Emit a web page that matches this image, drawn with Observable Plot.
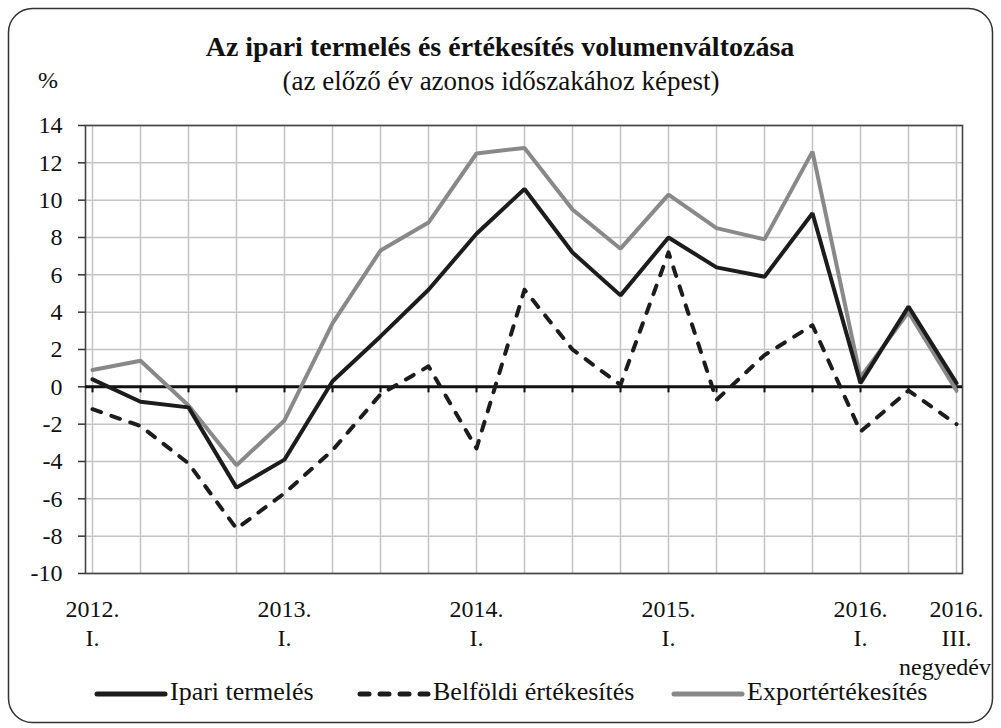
<!DOCTYPE html>
<html>
<head>
<meta charset="utf-8">
<script src="https://cdn.jsdelivr.net/npm/d3@7"></script>
<script src="https://cdn.jsdelivr.net/npm/@observablehq/plot@0.6"></script>
<style>
  body { margin: 0; background: #fff; }
  #wrap { position: relative; width: 1001px; height: 728px; font-family: "Liberation Serif", "Times New Roman", serif; color: #111; overflow: hidden; }
  #chart { position: absolute; left: 0; top: 0; }
  #overlay { position: absolute; left: 0; top: 0; pointer-events: none; }
</style>
</head>
<body>
<div id="wrap">
  <div id="chart"></div>
  <svg id="overlay" width="1001" height="728"></svg>
</div>
<script>
// ---- Data ----
const quarters = [
  "2012. I.", "2012. II.", "2012. III.", "2012. IV.",
  "2013. I.", "2013. II.", "2013. III.", "2013. IV.",
  "2014. I.", "2014. II.", "2014. III.", "2014. IV.",
  "2015. I.", "2015. II.", "2015. III.", "2015. IV.",
  "2016. I.", "2016. II.", "2016. III."
];
const ipariTermeles = [0.4, -0.8, -1.1, -5.4, -3.9, 0.3, 2.7, 5.2, 8.2, 10.6, 7.2, 4.9, 8.0, 6.4, 5.9, 9.3, 0.2, 4.3, 0.2];
const belfoldiErtekesites = [-1.2, -2.1, -4.1, -7.6, -5.7, -3.4, -0.4, 1.1, -3.3, 5.2, 2.0, 0.1, 7.2, -0.7, 1.7, 3.3, -2.4, -0.2, -2.0];
const exportErtekesites = [0.9, 1.4, -1.0, -4.2, -1.8, 3.4, 7.3, 8.8, 12.5, 12.8, 9.5, 7.4, 10.3, 8.5, 7.9, 12.6, 0.5, 4.0, -0.2];
const yTicks = [-10, -8, -6, -4, -2, 0, 2, 4, 6, 8, 10, 12, 14];
const labeledQuarters = ["2012. I.", "2013. I.", "2014. I.", "2015. I.", "2016. I.", "2016. III."];
const seriesNames = ["Ipari termelés", "Belföldi értékesítés", "Exportértékesítés"];
const titleText = "Az ipari termelés és értékesítés volumenváltozása";
const subtitleText = "(az előző év azonos időszakához képest)";
const unitText = "%";
const xUnitText = "negyedév";

// ---- Build rows ----
const rows = quarters.map((q, i) => ({
  q, ipari: ipariTermeles[i], belfoldi: belfoldiErtekesites[i], export: exportErtekesites[i]
}));

const FONT = '"Liberation Serif", "Times New Roman", serif';
const DASH = "9,11";

const chart = Plot.plot({
  width: 1001,
  height: 728,
  marginLeft: 85,
  marginRight: 39,
  marginTop: 125,
  marginBottom: 155,
  x: { type: "point", domain: quarters, padding: 0 },
  y: { domain: [-10, 14] },
  style: { fontFamily: FONT, fontSize: "24px", color: "#111", background: "transparent", overflow: "visible" },
  marks: [
    Plot.gridX(quarters, { stroke: "#c4c4c4", strokeOpacity: 1, strokeWidth: 1.5 }),
    Plot.gridY(yTicks, { stroke: "#c4c4c4", strokeOpacity: 1, strokeWidth: 1.5 }),
    Plot.frame({ stroke: "#444", strokeWidth: 1.6 }),
    Plot.axisY(yTicks, {
      tickSize: 7, tickPadding: 16, fontSize: 24, label: null, stroke: "#333", strokeWidth: 1.5, fill: "#111",
      tickFormat: d => String(d)
    }),
    Plot.axisX(labeledQuarters, {
      tickSize: 0, tickPadding: 23, fontSize: 24, label: null, lineHeight: 1.21, fill: "#111",
      tickFormat: d => d.replace(" ", "\n")
    }),
    Plot.ruleY([0], { stroke: "#111", strokeWidth: 3 }),
    Plot.ruleX(quarters, { x: d => d, y1: d => 0, y2: d => 0, insetBottom: -6, stroke: "#111", strokeWidth: 2 }),
    Plot.line(rows, { x: "q", y: "export", stroke: "#898989", strokeWidth: 4, strokeLinejoin: "miter" }),
    Plot.line(rows, { x: "q", y: "ipari", stroke: "#1c1c1c", strokeWidth: 4, strokeLinejoin: "miter" }),
    Plot.line(rows, { x: "q", y: "belfoldi", stroke: "#1c1c1c", strokeWidth: 4, strokeDasharray: DASH, strokeLinecap: "round", strokeLinejoin: "round" })
  ]
});
document.getElementById("chart").appendChild(chart);

// ---- Overlay: border, titles, legend ----
const ov = d3.select("#overlay");
ov.append("rect").attr("x", 8.5).attr("y", 8.5).attr("width", 984).attr("height", 714)
  .attr("rx", 24).attr("ry", 24).attr("fill", "none").attr("stroke", "#333").attr("stroke-width", 1.5);

ov.append("text").attr("x", 500).attr("y", 56).attr("text-anchor", "middle")
  .attr("font-family", FONT).attr("font-size", 28).attr("font-weight", "bold").attr("fill", "#111").text(titleText);
ov.append("text").attr("x", 501).attr("y", 90).attr("text-anchor", "middle")
  .attr("font-family", FONT).attr("font-size", 27).attr("fill", "#111").text(subtitleText);
ov.append("text").attr("x", 38).attr("y", 88)
  .attr("font-family", FONT).attr("font-size", 24).attr("fill", "#111").text(unitText);
ov.append("text").attr("x", 991).attr("y", 675).attr("text-anchor", "end")
  .attr("font-family", FONT).attr("font-size", 24).attr("fill", "#111").text(xUnitText);

const legendItems = [
  { name: seriesNames[0], x: 95, stroke: "#1c1c1c", dash: null },
  { name: seriesNames[1], x: 358, stroke: "#1c1c1c", dash: DASH },
  { name: seriesNames[2], x: 672, stroke: "#898989", dash: null }
];
for (const it of legendItems) {
  const ln = ov.append("line").attr("x1", it.x + 2).attr("x2", it.x + 70).attr("y1", 694).attr("y2", 694)
    .attr("stroke", it.stroke).attr("stroke-width", 5).attr("stroke-linecap", "round");
  if (it.dash) ln.attr("stroke-dasharray", it.dash);
  ov.append("text").attr("x", it.x + 75).attr("y", 700)
    .attr("font-family", FONT).attr("font-size", 26).attr("fill", "#111").text(it.name);
}
</script>
</body>
</html>
